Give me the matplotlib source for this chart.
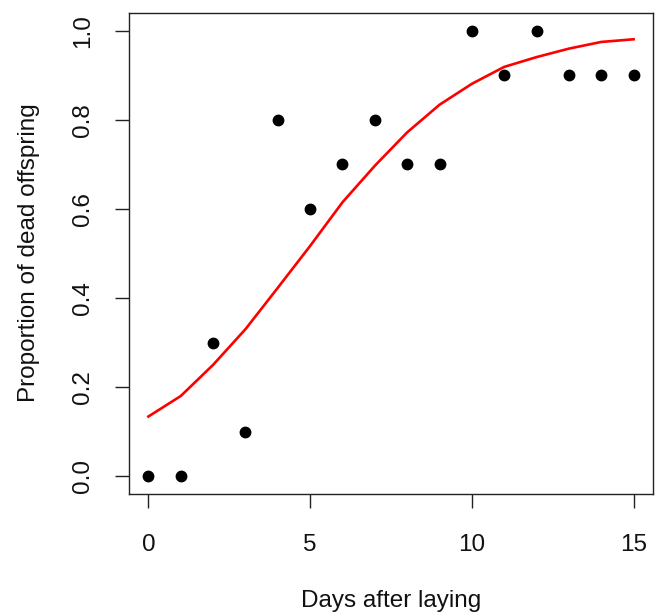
import matplotlib
matplotlib.use("Agg")
import matplotlib.pyplot as plt

plt.rcParams['font.family'] = ['Liberation Sans', 'DejaVu Sans']

# observed proportions per day
days = [0, 1, 2, 3, 4, 5, 6, 7, 8, 9, 10, 11, 12, 13, 14, 15]
prop_dead = [0.0, 0.0, 0.3, 0.1, 0.8, 0.6, 0.7, 0.8, 0.7, 0.7,
             1.0, 0.9, 1.0, 0.9, 0.9, 0.9]

# fitted curve at each day
fit_dead = [0.134, 0.18, 0.25, 0.33, 0.423, 0.517, 0.615, 0.697, 0.772,
            0.834, 0.881, 0.919, 0.941, 0.960, 0.975, 0.981]

x_ticks = [0, 5, 10, 15]
y_ticks = [0.0, 0.2, 0.4, 0.6, 0.8, 1.0]

fig = plt.figure(figsize=(6.55, 6.14), dpi=100)
ax = fig.add_axes([129 / 655, 120 / 614, 524 / 655, 481 / 614])

ax.plot(days, fit_dead, color='red', lw=1.9, zorder=2)
ax.plot(days, prop_dead, 'o', color='black', ms=7.5, zorder=3)

ax.set_xlim(-0.6, 15.6)
ax.set_ylim(-0.04, 1.04)
ax.set_xticks(x_ticks)
ax.set_xticklabels([str(v) for v in x_ticks])
ax.set_yticks(y_ticks)
ax.set_yticklabels(['%.1f' % v for v in y_ticks], rotation=90, va='center')

ax.tick_params(length=10, width=1, labelsize=17.5, color='#222222',
               labelcolor='#111111')
ax.tick_params(axis='x', pad=19)
ax.tick_params(axis='y', pad=15)
for s in ax.spines.values():
    s.set_linewidth(1)
    s.set_color('#222222')

fig.text(391 / 655, 1 - 601 / 614, 'Days after laying', ha='center', va='center',
         fontsize=17.5, color='#111111')
fig.text(29 / 655, 1 - 253 / 614, 'Proportion of dead offspring', ha='center',
         va='center', rotation=90, fontsize=17.5, color='#111111')

fig.savefig('out.png', dpi=100)
